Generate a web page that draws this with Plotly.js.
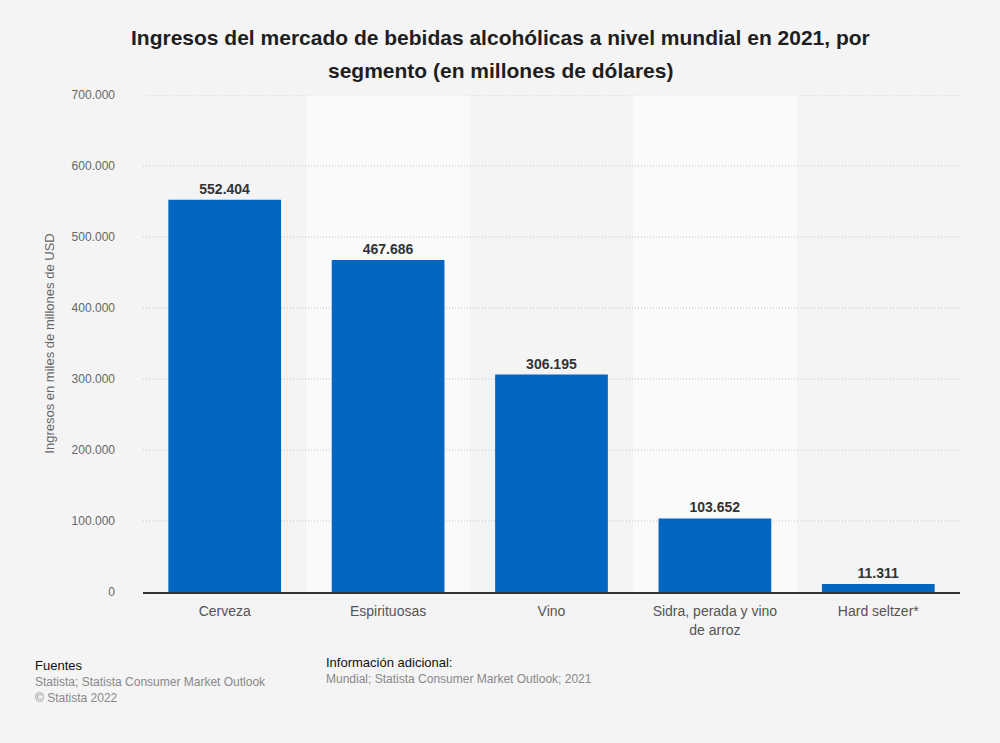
<!DOCTYPE html>
<html><head><meta charset="utf-8">
<script src="https://cdn.plot.ly/plotly-3.0.1.min.js"></script>
<style>html,body{margin:0;padding:0;background:#f4f4f4;}#chart{width:1000px;height:743px;}</style>
</head><body><div id="chart"></div>
<script>
const categories = ["Cerveza", "Espirituosas", "Vino", "Sidra, perada y vino<br>de arroz", "Hard seltzer*"];
const values = [552404, 467686, 306195, 103652, 11311];
const yTicks = [0, 100000, 200000, 300000, 400000, 500000, 600000, 700000];
const titleLines = ["Ingresos del mercado de bebidas alcohólicas a nivel mundial en 2021, por", "segmento (en millones de dólares)"];

const fmt = v => String(v).replace(/\B(?=(\d{3})+(?!\d))/g, ".");
const FONT = 'Arial, Liberation Sans, sans-serif';

const shapes = [];
categories.forEach((c, i) => {
  if (i % 2 === 1) {
    shapes.push({type:'rect', xref:'x', yref:'paper', x0:i-0.5, x1:i+0.5, y0:0, y1:1,
      fillcolor:'#fafafa', line:{width:0}, layer:'below'});
  }
});
yTicks.forEach(t => {
  if (t > 0) {
    shapes.push({type:'line', xref:'paper', yref:'y', x0:0, x1:1, y0:t, y1:t,
      line:{color:'#c4c4c4', width:1, dash:'1px,2px'}, layer:'below'});
  }
});

const trace = {
  type:'bar', x:categories, y:values,
  marker:{color:'#0366c1'}, width:0.69,
  text: values.map(fmt), textposition:'outside', cliponaxis:false,
  textfont:{family:FONT, size:14, color:'#333'},
  texttemplate:'<b>%{text}</b>', hoverinfo:'none'
};

const layout = {
  width:1000, height:743,
  paper_bgcolor:'#f4f4f4', plot_bgcolor:'rgba(0,0,0,0)',
  separators:',.',
  margin:{l:143, r:40, t:95, b:151},
  showlegend:false,
  xaxis:{type:'category', showgrid:false, showline:true, linecolor:'#333', linewidth:1.5,
    ticks:'', ticklabelstandoff:6, tickfont:{family:FONT, size:14, color:'#555'},
    range:[-0.5, categories.length-0.5], fixedrange:true},
  yaxis:{range:[0,700000], tickvals:yTicks, ticktext:yTicks.map(fmt),
    showgrid:false, zeroline:false,
    tickfont:{family:FONT, size:12, color:'#666'},
    ticklabelstandoff:27,
    title:{text:'Ingresos en miles de millones de USD', standoff:14,
      font:{family:FONT, size:13, color:'#666'}}},
  shapes:shapes,
  annotations:[
    {xref:'paper', yref:'paper', x:0.437, y:1.1147, xanchor:'center', yanchor:'middle', showarrow:false,
     text:'<b>'+titleLines[0]+'</b>', font:{family:FONT, size:21, color:'#1e1e1e'}},
    {xref:'paper', yref:'paper', x:0.437, y:1.0503, xanchor:'center', yanchor:'middle', showarrow:false,
     text:'<b>'+titleLines[1]+'</b>', font:{family:FONT, size:21, color:'#1e1e1e'}},
    {xref:'paper', yref:'paper', x:-0.135, y:-0.128, xanchor:'left', yanchor:'top', align:'left', showarrow:false,
     text:'Fuentes', font:{family:FONT, size:13, color:'#111'}},
    {xref:'paper', yref:'paper', x:-0.135, y:-0.163, xanchor:'left', yanchor:'top', align:'left', showarrow:false,
     text:'Statista; Statista Consumer Market Outlook<br>© Statista 2022',
     font:{family:FONT, size:12, color:'#888'}},
    {xref:'paper', yref:'paper', x:0.222, y:-0.122, xanchor:'left', yanchor:'top', align:'left', showarrow:false,
     text:'Información adicional:', font:{family:FONT, size:13, color:'#111'}},
    {xref:'paper', yref:'paper', x:0.222, y:-0.157, xanchor:'left', yanchor:'top', align:'left', showarrow:false,
     text:'Mundial; Statista Consumer Market Outlook; 2021',
     font:{family:FONT, size:12, color:'#888'}}
  ]
};

Plotly.newPlot('chart', [trace], layout, {displayModeBar:false, staticPlot:true});
</script></body></html>
